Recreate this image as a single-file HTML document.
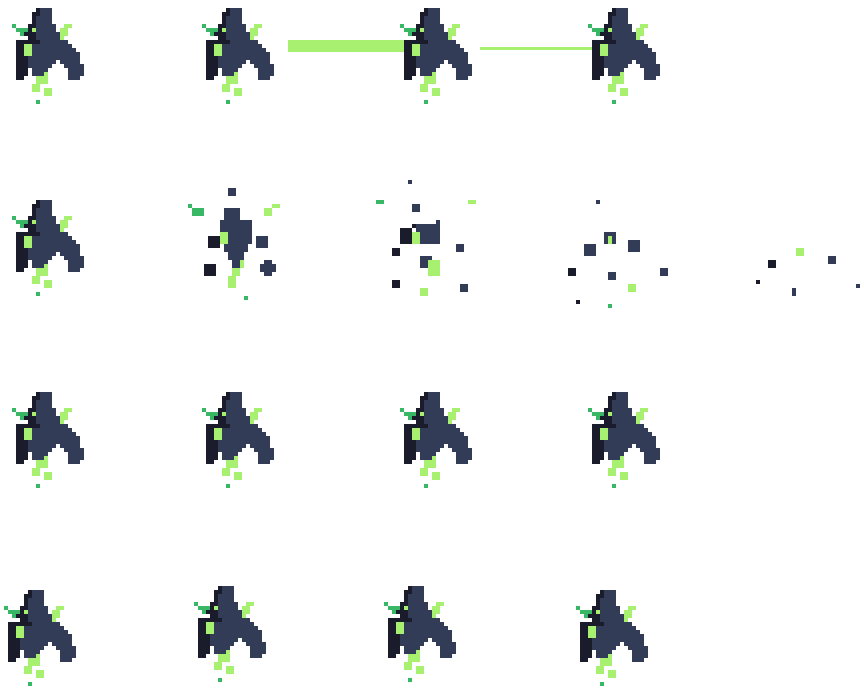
<!DOCTYPE html>
<html><head><meta charset="utf-8"><style>
html,body{margin:0;padding:0;background:#fff;width:864px;height:699px;overflow:hidden}
svg{display:block}
</style></head><body>
<svg id="sheet" width="864" height="699" viewBox="0 0 864 699" shape-rendering="crispEdges">
<rect x="288" y="40" width="128" height="12" fill="#a7f070"/>
<rect x="480" y="47" width="130" height="3" fill="#a7f070"/>
</svg>
<script>
const spriteRows = [
"......DNNN........",
".....DDNNN........",
".....DNNNN........",
".....DNNNN........",
"G...DDNNNNN..LL...",
".GGGDLNNNNN.LL....",
"..GDDDNNNNNNLL....",
"....DDNNNNNNL.....",
".DDDDDDNNNNNNN....",
".DDLLNNNNNNNNNN...",
".DDLLNNNNNNNNNNN..",
".DDLLNNNNNNNNNNNN.",
".DDDNNNNNNNNNNNNN.",
".DDDNNNNNNN.NNNNN.",
".DDDNNNNNN...NNNNN",
".DDD.NNNN.....NNNN",
".DDD.NNNL.....NNNN",
".DD...LLL.....NNN.",
"......LLL.........",
".....LL...........",
".....LL.LL........",
"........LL........",
"..................",
"......G..........."];
const spriteOrigins = [[12,8],[202,8],[400,8],[588,8],[12,200],[12,392],[202,392],[400,392],[588,392],[4,590],[194,586],[384,586],[576,590]];
const colors = {D:"#1a1c2c",N:"#333c57",L:"#a7f070",G:"#38b764"};
const debris = [
["N",228,188,8,8],["G",188,204,4,4],["G",192,208,12,8],["L",272,204,8,4],["L",264,208,8,8],
["N",224,208,16,12],["N",220,220,32,24],["N",224,244,24,8],["N",228,252,16,8],["N",232,260,8,8],
["D",208,236,12,12],["L",220,232,8,12],["N",256,236,12,12],["D",204,264,12,12],["N",260,264,16,8],["N",264,260,8,16],
["L",240,260,4,8],["L",232,268,8,8],["L",228,276,8,12],["G",244,296,4,4],
["N",408,180,4,4],["G",376,200,8,4],["L",468,200,8,4],["N",412,204,8,8],["N",436,220,4,4],["D",412,224,8,4],
["D",400,228,12,16],["N",416,224,24,20],["L",412,232,8,12],["D",392,248,8,8],["N",456,244,8,8],["N",420,256,12,12],
["L",428,260,12,16],["D",392,280,8,8],["N",460,284,8,8],["L",420,288,8,8],
["N",596,200,4,4],["N",584,244,12,12],["N",604,232,12,12],["L",608,236,4,8],["N",628,240,12,12],["D",568,268,8,8],
["N",608,272,8,8],["N",660,268,8,8],["L",628,284,8,8],["D",576,300,4,4],["G",608,304,4,4],
["L",796,248,8,8],["D",768,260,8,8],["N",828,256,8,8],["D",756,280,4,4],["N",792,288,4,8],["N",856,284,4,4]];
const svg = document.getElementById('sheet');
const NS = "http://www.w3.org/2000/svg";
spriteOrigins.forEach(function(o, i){
  const g = document.createElementNS(NS,'g');
  
  
  spriteRows.forEach(function(row, r){
    for (let c = 0; c < row.length; c++) {
      const ch = row[c];
      if (ch === '.') continue;
      const rc = document.createElementNS(NS,'rect');
      rc.setAttribute('x', o[0] + c*4);
      rc.setAttribute('y', o[1] + r*4);
      rc.setAttribute('width', 4);
      rc.setAttribute('height', 4);
      rc.setAttribute('fill', colors[ch]);
      g.appendChild(rc);
    }
  });
  svg.appendChild(g);
});
const dg = document.createElementNS(NS,'g');


debris.forEach(function(d){
  const rc = document.createElementNS(NS,'rect');
  rc.setAttribute('x', d[1]); rc.setAttribute('y', d[2]);
  rc.setAttribute('width', d[3]); rc.setAttribute('height', d[4]);
  rc.setAttribute('fill', colors[d[0]]);
  dg.appendChild(rc);
});
svg.appendChild(dg);
</script>
</body></html>
